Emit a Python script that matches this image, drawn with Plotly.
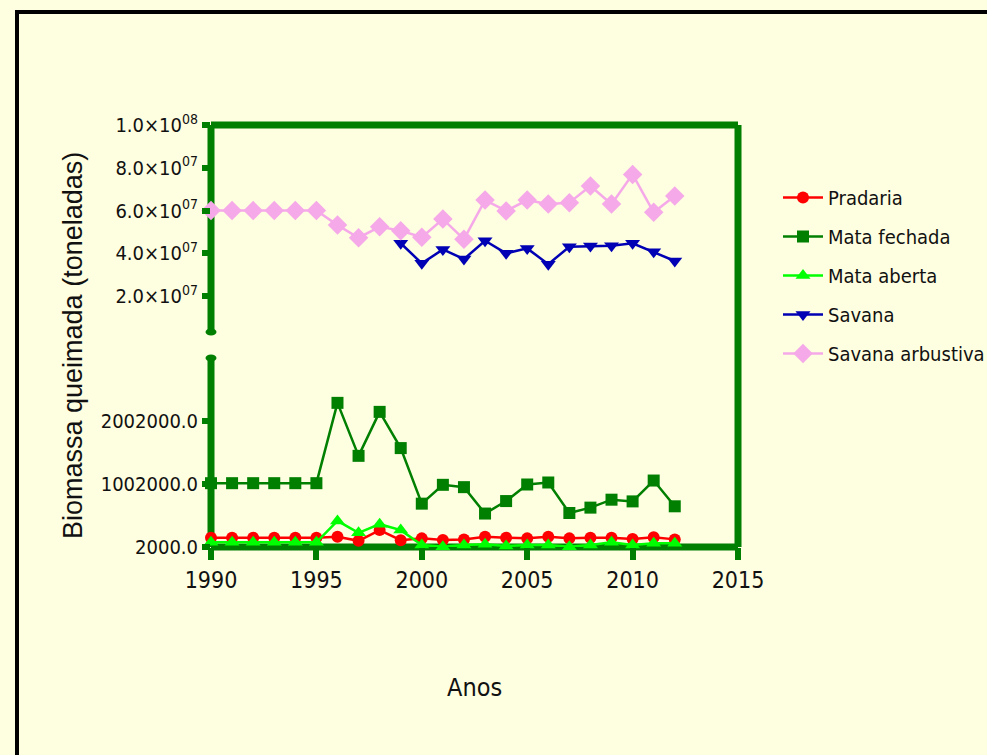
import plotly.graph_objects as go

years = list(range(1990, 2013))

pradaria = [148000]*6 + [164000, 100000, 270000, 110000, 139000, 112000, 123000, 164000,
                         148000, 139000, 164000, 139000, 148000, 148000, 128000, 155000, 123000]
mata_fechada = [1015000]*6 + [2290000, 1449000, 2147000, 1572000, 690000, 989000, 952000, 533000,
                              731000, 994000, 1026000, 542000, 627000, 753000, 726000, 1057000, 648000]
mata_aberta = [76000]*6 + [416000, 227000, 364000, 270000, 33000, 5000, 33000, 44000,
                           18000, 33000, 33000, 5000, 33000, 76000, 33000, 60000, 60000]
savana = [None]*9 + [44.7e6, 35.3e6, 41.8e6, 37.3e6, 45.9e6, 40.0e6, 42.3e6, 34.9e6,
                     43.1e6, 43.4e6, 43.5e6, 44.7e6, 40.7e6, 36.4e6]
savana_arb = [60e6]*6 + [53.2e6, 47.3e6, 52.4e6, 50.6e6, 47.5e6, 56.0e6, 46.6e6, 64.9e6,
                         59.8e6, 64.9e6, 63.0e6, 63.7e6, 71.5e6, 63.0e6, 76.9e6, 59.2e6, 66.8e6]

low_tickvals = [2000, 1002000, 2002000]
low_ticktext = ["2000.0", "1002000.0", "2002000.0"]
up_tickvals = [2e7, 4e7, 6e7, 8e7, 1e8]
up_ticktext = ["2.0×10<sup>07</sup>", "4.0×10<sup>07</sup>", "6.0×10<sup>07</sup>",
               "8.0×10<sup>07</sup>", "1.0×10<sup>08</sup>"]
x_ticks = [1990, 1995, 2000, 2005, 2010, 2015]

GREEN = "#007F00"
BG = "#FEFEE0"
NARROW = "DejaVu Sans Condensed, Liberation Sans Narrow, sans-serif"

fig = go.Figure()

series = [
    ("Pradaria", pradaria, "#FF0000", "circle", 12, "y"),
    ("Mata fechada", mata_fechada, GREEN, "square", 12, "y"),
    ("Mata aberta", mata_aberta, "#00FF00", "triangle-up", 13, "y"),
    ("Savana", savana, "#0000B4", "triangle-down", 13, "y2"),
    ("Savana arbustiva", savana_arb, "#F5A9E9", "diamond", 15, "y2"),
]
for name, vals, col, sym, sz, yax in series:
    fig.add_trace(go.Scatter(
        x=years, y=vals, name=name, yaxis=yax, xaxis="x",
        mode="lines+markers", legendgroup=name,
        line=dict(color=col, width=2.5),
        marker=dict(color=col, symbol=sym, size=sz),
        cliponaxis=False, connectgaps=False,
    ))

W, H = 987, 755
L, R, T, B = 211, 738, 125, 547
pw, ph = R - L, B - T


def px_x(p):
    return (p - L) / pw


def px_y(p):
    return (B - p) / ph


LOW_TOP = px_y(358)
UP_BOT = px_y(332)
tickfont = dict(family=NARROW, size=20, color="#111")
axis_common = dict(showgrid=False, zeroline=False, showline=False,
                   ticks="outside", tickwidth=6, tickcolor=GREEN)

frame = dict(color=GREEN, width=7)


def pline(x0, y0, x1, y1):
    return dict(type="line", xref="paper", yref="paper", x0=x0, y0=y0, x1=x1, y1=y1,
                line=frame, layer="below")


def cap(cy):
    return dict(type="circle", xref="paper", yref="paper",
                x0=px_x(L - 5.5), x1=px_x(L + 5.5), y0=px_y(cy + 3.5), y1=px_y(cy - 3.5),
                line=dict(width=0), fillcolor=GREEN, layer="below")


fig.update_layout(
    width=W, height=H,
    margin=dict(l=L, r=W - R, t=T, b=H - B, autoexpand=False),
    paper_bgcolor=BG, plot_bgcolor="rgba(0,0,0,0)",
    showlegend=True,
    legend=dict(x=px_x(778), y=px_y(178), xanchor="left", yanchor="top",
                bgcolor="rgba(0,0,0,0)", font=dict(family=NARROW, size=20, color="#111"),
                itemwidth=40, tracegroupgap=10),
    xaxis=dict(range=[1990, 2015], domain=[0, 1], anchor="y",
               tickvals=x_ticks, ticktext=[str(v) for v in x_ticks],
               ticklen=12, tickfont=dict(family=NARROW, size=23, color="#111"),
               **axis_common),
    yaxis=dict(range=[2000, 3002000], domain=[0, LOW_TOP], anchor="x",
               tickvals=low_tickvals, ticktext=low_ticktext,
               ticklen=8, tickfont=tickfont, **axis_common),
    yaxis2=dict(range=[3.2e6, 1e8], domain=[UP_BOT, 1], anchor="x",
                tickvals=up_tickvals, ticktext=up_ticktext,
                ticklen=8, tickfont=tickfont, **axis_common),
    shapes=[
        pline(0, 1, 1, 1),              # top frame
        pline(1, 0, 1, 1),              # right frame
        pline(0, 0, 1, 0),              # bottom axis
        pline(0, 0, 0, LOW_TOP),        # left axis lower
        pline(0, UP_BOT, 0, 1),         # left axis upper
        cap(332), cap(358),             # break caps
        dict(type="rect", xref="paper", yref="paper",
             x0=px_x(17), x1=px_x(1100), y0=px_y(12), y1=px_y(900),
             line=dict(color="black", width=4), fillcolor="rgba(0,0,0,0)", layer="below"),
    ],
    annotations=[
        dict(text="Anos", xref="paper", yref="paper", x=0.5, y=px_y(687),
             showarrow=False, xanchor="center", yanchor="middle",
             font=dict(family=NARROW, size=25, color="#111")),
        dict(text="Biomassa queimada (toneladas)", xref="paper", yref="paper",
             x=px_x(73), y=px_y(346), textangle=-90, showarrow=False,
             xanchor="center", yanchor="middle",
             font=dict(family="Liberation Sans, Arial, sans-serif", size=27, color="#111")),
    ],
)

fig.write_html("out.html", config={"displayModeBar": False},
               post_script="document.body.style.margin='0';document.body.style.overflow='hidden';")
